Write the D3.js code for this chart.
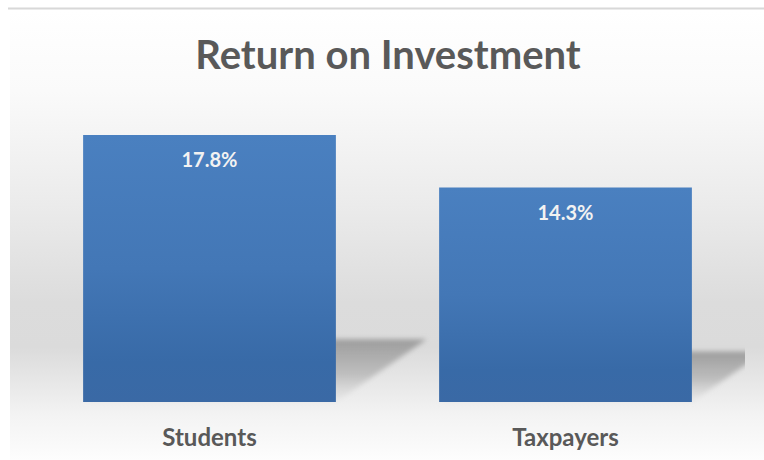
<!DOCTYPE html>
<html>
<head>
<meta charset="utf-8">
<script src="https://cdn.jsdelivr.net/npm/d3@7"></script>
<style>
  html, body { margin: 0; padding: 0; background: #fff; }
  svg { display: block; }
</style>
</head>
<body>
<div id="chart"></div>
<script>
const categories = ["Students", "Taxpayers"];
const values = [17.8, 14.3];
const valueLabels = ["17.8%", "14.3%"];
const titleText = "Return on Investment";

const width = 764, height = 460;
const base = 402;

const svg = d3.select("#chart").append("svg")
    .attr("width", width)
    .attr("height", height);

const defs = svg.append("defs");

// background gradient of the chart area
const bg = defs.append("linearGradient")
    .attr("id", "bg").attr("x1", 0).attr("y1", 0).attr("x2", 0).attr("y2", 1);
[["0%", "#ffffff"], ["18%", "#fafafa"], ["45%", "#eaeaea"], ["65%", "#dcdcdc"],
 ["75%", "#dbdbdb"], ["90%", "#f3f3f3"], ["100%", "#fdfdfd"]]
    .forEach(([o, c]) => bg.append("stop").attr("offset", o).attr("stop-color", c));

// bar gradient
const barGrad = defs.append("linearGradient")
    .attr("id", "barGrad").attr("x1", 0).attr("y1", 0).attr("x2", 0).attr("y2", 1);
[["0%", "#4a80c0"], ["50%", "#4377b6"], ["85%", "#386aa7"], ["100%", "#3a69a5"]]
    .forEach(([o, c]) => barGrad.append("stop").attr("offset", o).attr("stop-color", c));

// shadow gradient
const shGrad = defs.append("linearGradient")
    .attr("id", "shGrad").attr("x1", 0).attr("y1", 0).attr("x2", 0).attr("y2", 1);
shGrad.append("stop").attr("offset", "0%").attr("stop-color", "#9c9c9c").attr("stop-opacity", 1);
shGrad.append("stop").attr("offset", "55%").attr("stop-color", "#b4b4b4").attr("stop-opacity", 0.8);
shGrad.append("stop").attr("offset", "100%").attr("stop-color", "#d0d0d0").attr("stop-opacity", 0.15);

defs.append("filter").attr("id", "blur")
    .attr("x", "-20%").attr("y", "-20%").attr("width", "140%").attr("height", "140%")
    .append("feGaussianBlur").attr("stdDeviation", 2.5);

defs.append("clipPath").attr("id", "plotClip")
    .append("rect").attr("x", 10).attr("y", 10).attr("width", 735).attr("height", 450);

svg.append("rect")
    .attr("x", 10).attr("y", 10)
    .attr("width", width - 10).attr("height", height - 10)
    .attr("fill", "url(#bg)");

svg.append("line")
    .attr("x1", 8).attr("x2", width)
    .attr("y1", 8.5).attr("y2", 8.5)
    .attr("stroke", "#d8d8d8").attr("stroke-width", 2);

const x = d3.scaleBand()
    .domain(categories)
    .range([31.5, 743.5])
    .paddingInner(0.29)
    .paddingOuter(0.145);

const y = d3.scaleLinear()
    .domain([0, 18])
    .range([base, 132]);

const data = categories.map((c, i) => ({ cat: c, v: values[i], label: valueLabels[i] }));

// perspective shadows behind the bars
svg.append("g").attr("clip-path", "url(#plotClip)")
  .selectAll("polygon")
  .data(data)
  .join("polygon")
    .attr("points", d => {
        const h = base - y(d.v);
        const x0 = x(d.cat), x1 = x0 + x.bandwidth();
        const dx = 0.34 * h, dy = 0.235 * h;
        return [[x0, base], [x1, base], [x1 + dx, base - dy], [x0 + dx, base - dy]]
            .map(p => p.join(",")).join(" ");
    })
    .attr("fill", "url(#shGrad)")
    .attr("filter", "url(#blur)");

svg.append("g")
  .selectAll("rect")
  .data(data)
  .join("rect")
    .attr("x", d => x(d.cat))
    .attr("y", d => y(d.v))
    .attr("width", x.bandwidth())
    .attr("height", d => base - y(d.v))
    .attr("fill", "url(#barGrad)");

// value labels
svg.append("g")
  .selectAll("text")
  .data(data)
  .join("text")
    .attr("x", d => x(d.cat) + x.bandwidth() / 2)
    .attr("y", d => y(d.v) + 32)
    .attr("text-anchor", "middle")
    .attr("font-family", "Lato, 'Open Sans', sans-serif")
    .attr("font-weight", "bold")
    .attr("font-size", 20)
    .attr("fill", "#f2f2f2")
    .text(d => d.label);

// category axis labels
svg.append("g")
  .selectAll("text")
  .data(categories)
  .join("text")
    .attr("x", d => x(d) + x.bandwidth() / 2)
    .attr("y", 446)
    .attr("text-anchor", "middle")
    .attr("font-family", "Lato, 'Open Sans', sans-serif")
    .attr("font-weight", "bold")
    .attr("font-size", 24)
    .attr("fill", "#595959")
    .text(d => d);

svg.append("text")
    .attr("x", 388)
    .attr("y", 69)
    .attr("text-anchor", "middle")
    .attr("font-family", "Lato, 'Open Sans', sans-serif")
    .attr("font-weight", "bold")
    .attr("font-size", 40)
    .attr("fill", "#595959")
    .text(titleText);
</script>
</body>
</html>
